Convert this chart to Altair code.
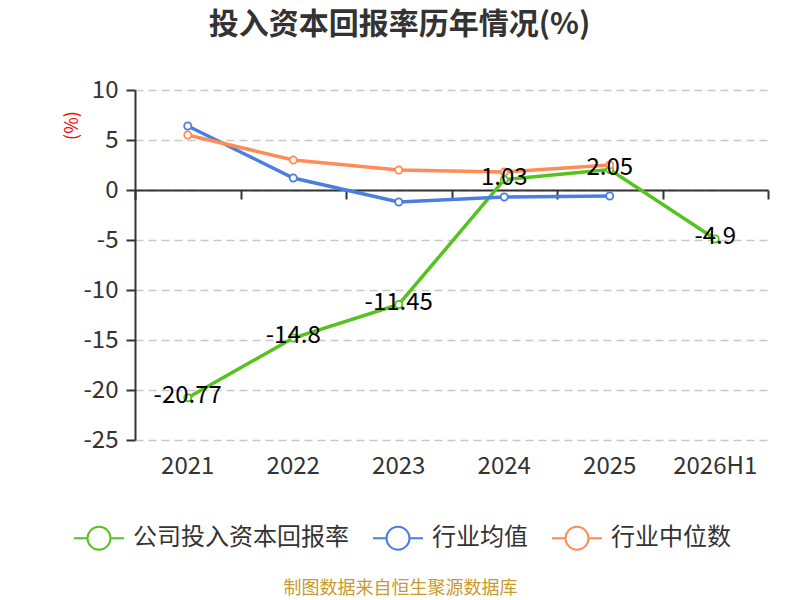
import altair as alt
import pandas as pd

years = ["2021", "2022", "2023", "2024", "2025", "2026H1"]
series = ["公司投入资本回报率", "行业均值", "行业中位数"]
company = [-20.77, -14.8, -11.45, 1.03, 2.05, -4.9]
industry_avg = [6.4, 1.2, -1.2, -0.7, -0.6]
industry_med = [5.5, 3.0, 2.0, 1.8, 2.5]
colors = ["#56c21f", "#4a7ee0", "#ff8c55"]

rows = []
for y, v in zip(years, company):
    rows.append({"year": y, "series": series[0], "value": v, "label": f"{v:g}"})
for y, v in zip(years, industry_avg):
    rows.append({"year": y, "series": series[1], "value": v, "label": ""})
for y, v in zip(years, industry_med):
    rows.append({"year": y, "series": series[2], "value": v, "label": ""})
df = pd.DataFrame(rows)
df["order"] = df["series"].map({s: i for i, s in enumerate(series)})

FONT = "Noto Sans CJK SC"
xscale = alt.Scale(type="band", paddingInner=0, paddingOuter=0)

label_axis = alt.Axis(
    orient="bottom", title="制图数据来自恒生聚源数据库", titleColor="#c99a2e",
    titleFontSize=18, titleFontWeight="normal", titleFont=FONT,
    titleX=265, titleY=148, titleBaseline="middle", titleAlign="center",
    domain=False, ticks=False, tickSize=0, grid=False,
    labelFontSize=24, labelColor="#333333", labelFont=FONT, labelPadding=14,
    labelAngle=0,
)
zero_axis = alt.Axis(
    orient="bottom", offset=-250, title=None, labels=False, grid=False,
    domain=True, domainColor="#333333", domainWidth=2,
    ticks=True, tickColor="#333333", tickWidth=2, tickSize=9, tickBand="extent",
)
yaxis = alt.Axis(
    values=[10, 5, 0, -5, -10, -15, -20, -25], title="(%)", titleColor="red",
    titleFontSize=18, titleFontWeight="normal", titleFont=FONT,
    titleX=-63, titleY=35, titleAngle=-90, titleAlign="center", titleBaseline="middle",
    labelFontSize=24, labelColor="#333333", labelFont=FONT, labelPadding=8,
    labelExpr="replace(datum.label, '−', '-')",
    domainColor="#333333", domainWidth=2, tickColor="#333333", tickWidth=2, tickSize=9,
    grid=True, gridDash=[8, 5], gridColor="#c8c8c8", gridWidth=1.3,
)
yscale = alt.Scale(domain=[-25, 10], nice=False, zero=False)

legend_path = ("M-1,0L-0.46,0M0.46,0L1,0M0.46,0A0.46,0.46,0,1,1,-0.46,0"
               "A0.46,0.46,0,1,1,0.46,0Z")
color = alt.Color(
    "series:N", sort=series,
    scale=alt.Scale(domain=series, range=colors),
    legend=alt.Legend(
        orient="none", legendX=-62, legendY=422, direction="horizontal", title=None,
        symbolType=legend_path, symbolSize=2500, symbolStrokeWidth=2,
        symbolFillColor="white", labelFontSize=24, labelColor="#333333",
        labelFont=FONT, labelOffset=8, columnPadding=20, padding=0, labelLimit=400,
    ),
)

base = alt.Chart(df)

lines = base.mark_line(strokeWidth=3.5).encode(
    x=alt.X("year:N", sort=years, scale=xscale, axis=label_axis),
    y=alt.Y("value:Q", scale=yscale, axis=yaxis),
    color=color,
    order=alt.Order("order:Q"),
    detail="series:N",
)
points = base.mark_point(shape="circle", filled=False, fill="white", fillOpacity=1,
                         size=50, strokeWidth=1.8, opacity=1).encode(
    x=alt.X("year:N", sort=years, scale=xscale, axis=zero_axis),
    y=alt.Y("value:Q", scale=yscale, axis=yaxis),
    color=color,
    order=alt.Order("order:Q"),
)
labels = base.transform_filter(alt.datum.label != "").mark_text(
    fontSize=24, font=FONT, color="#000000", align="center", baseline="middle", dy=-2
).encode(
    x=alt.X("year:N", sort=years, scale=xscale, axis=None),
    y=alt.Y("value:Q", scale=yscale, axis=yaxis),
    text="label:N",
)

chart = alt.layer(lines, points, labels).resolve_axis(x="independent").properties(
    width=633, height=350,
    autosize=alt.AutoSizeParams(type="none"),
    padding={"left": 127, "top": 82, "right": 24, "bottom": 166},
    title=alt.TitleParams(
        text="投入资本回报率历年情况(%)", fontSize=30, fontWeight="bold",
        color="#333333", font=FONT, anchor="middle", frame="group", dx=-52,
        offset=14, baseline="alphabetic",
    ),
).configure_view(stroke=None)

chart.save("out.html", embed_options={"renderer": "svg", "actions": False})
